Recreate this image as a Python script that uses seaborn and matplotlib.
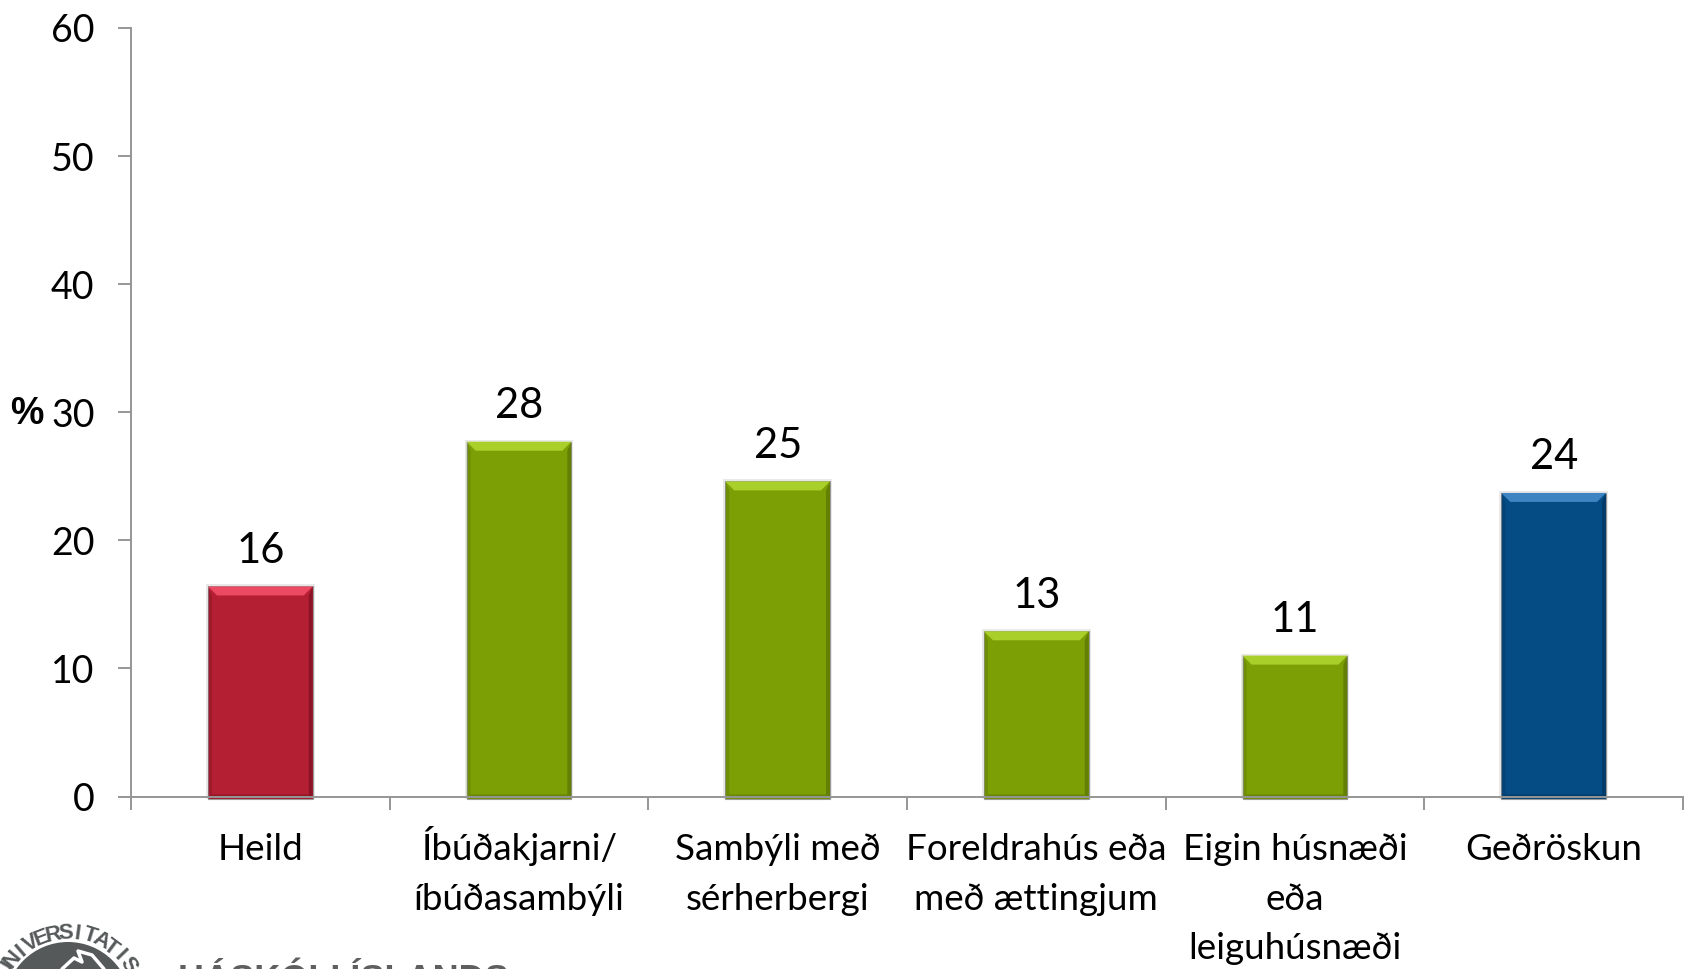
import numpy as np
import pandas as pd
import seaborn as sns
import matplotlib.pyplot as plt
from matplotlib.lines import Line2D
from matplotlib.patches import Polygon, Circle
from matplotlib.ticker import FixedLocator
from matplotlib.transforms import IdentityTransform, ScaledTranslation

categories = ["Heild", "Íbúðakjarni/\níbúðasambýli", "Sambýli með\nsérherbergi",
              "Foreldrahús eða\nmeð ættingjum", "Eigin húsnæði\neða\nleiguhúsnæði", "Geðröskun"]
values = [16.4, 27.7, 24.6, 12.9, 11.0, 23.7]
yticks = [0, 10, 20, 30, 40, 50, 60]
bar_colors = ["#B51F33", "#7B9F04", "#7B9F04", "#7B9F04", "#7B9F04", "#054B84"]
light_colors = ["#EC4A63", "#A9CF2A", "#A9CF2A", "#A9CF2A", "#A9CF2A", "#3F84C2"]
dark_colors = ["#7E1022", "#5C7504", "#5C7504", "#5C7504", "#5C7504", "#023560"]

W, H = 1684, 969
sns.set_theme(style="white")
plt.rcParams["font.family"] = ["Lato", "Liberation Sans", "DejaVu Sans"]

df = pd.DataFrame({"cat": categories, "val": values})

fig = plt.figure(figsize=(W / 100, H / 100), dpi=100, facecolor="white")
ax = fig.add_axes([131 / W, 1 - 796.5 / H, (1683 - 131) / W, (796.5 - 28) / H])

sns.barplot(data=df, x="cat", y="val", hue="cat", palette=bar_colors, legend=False,
            width=0.405, saturation=1, ax=ax, zorder=2)

ax.set_xlim(-0.5, 5.5)
ax.set_ylim(0, 60)
ax.set_xlabel("")
ax.set_ylabel("")
ax.set_yticks(yticks)
ax.tick_params(axis="y", left=True, length=9.7, width=1.4, color="#969696", labelsize=27, pad=16.5, labelcolor="black")
ax.tick_params(axis="x", which="major", bottom=False, labelsize=26.5, pad=20.5, labelcolor="black")
ax.xaxis.set_minor_locator(FixedLocator(np.arange(-0.5, 6)))
ax.tick_params(axis="x", which="minor", bottom=True, length=9.7, width=1.4, color="#969696")
for lab in ax.get_xticklabels():
    lab.set_linespacing(1.6)
# the accent on the capital pushes this label down
lab = ax.get_xticklabels()[1]
lab.set_transform(lab.get_transform() + ScaledTranslation(0, 7 / 100, fig.dpi_scale_trans))

sns.despine(ax=ax)
for s in ["left", "bottom"]:
    ax.spines[s].set_color("#969696")
    ax.spines[s].set_linewidth(1.4)
    ax.spines[s].set_zorder(5)

for c in ax.containers:
    ax.bar_label(c, fmt="%.0f", padding=12, fontsize=30, color="black")

# bevel on the bars
bars = [p for c in ax.containers for p in c.patches]
for p, lt, dk in zip(bars, light_colors, dark_colors):
    (x0, y0), (x1, y1) = ax.transData.transform([(p.get_x(), 0), (p.get_x() + p.get_width(), p.get_height())])
    y0 -= 2
    b = 9
    n = 4
    tr = IdentityTransform()
    ax.add_patch(Polygon([(x0 - 2, y0), (x0 - 2, y1 + 2), (x1 + 2, y1 + 2), (x1 + 2, y0)],
                         transform=tr, fc="#c8c8c8", ec="none", alpha=0.4, zorder=1, clip_on=False))
    ax.add_patch(Polygon([(x0, y0), (x1, y0), (x1, y1), (x0, y1)], transform=tr, fc=p.get_facecolor(),
                         ec="#9a9a9a", lw=0.8, zorder=2.5, clip_on=False))
    ax.add_patch(Polygon([(x0, y1), (x1, y1), (x1 - b, y1 - b), (x0 + b, y1 - b)], transform=tr,
                         fc=lt, ec="none", zorder=3, clip_on=False))
    ax.add_patch(Polygon([(x1, y1), (x1, y0), (x1 - n, y0 + n), (x1 - n, y1 - b)], transform=tr,
                         fc=dk, ec="none", alpha=0.75, zorder=3, clip_on=False))
    ax.add_patch(Polygon([(x0, y1), (x0, y0), (x0 + n, y0 + n), (x0 + n, y1 - b)], transform=tr,
                         fc=dk, ec="none", alpha=0.4, zorder=3, clip_on=False))
    ax.add_patch(Polygon([(x0, y0), (x1, y0), (x1 - n, y0 + n), (x0 + n, y0 + n)], transform=tr,
                         fc=dk, ec="none", alpha=0.6, zorder=3, clip_on=False))

fig.text(27 / W, 1 - 414 / H, "%", fontsize=27, fontweight="bold", family=["Liberation Sans", "DejaVu Sans"],
         ha="center", va="center", color="black")

# logo at the bottom edge
gray = "#55595a"
cx, cy, r = 68, 1005, 72
fig.add_artist(Circle((cx, H - cy), 63, fc=gray, ec="none", transform=IdentityTransform()))
fig.add_artist(Line2D([62, 74, 82, 78, 92, 104], [H - 969, H - 958, H - 962, H - 951, H - 955, H - 969],
                      color="white", lw=2.5, transform=IdentityTransform()))
seal = "UNIVERSITATIS"
for ch, ang in zip(seal, np.linspace(150, 34, len(seal))):
    rad = np.deg2rad(ang)
    fig.text((cx + r * np.cos(rad)) / W, 1 - (cy - r * np.sin(rad)) / H, ch, fontsize=16, fontweight="bold",
             family=["Liberation Sans", "DejaVu Sans"], color=gray, rotation=ang - 90, ha="center", va="center",
             rotation_mode="anchor")
fig.text(178 / W, 1 - 991 / H, "HÁSKÓLI ÍSLANDS", fontsize=26, fontweight="bold",
         family=["Liberation Sans", "DejaVu Sans"], color="#5f5f5f", ha="left", va="baseline")

fig.savefig("out.png", dpi=100)
